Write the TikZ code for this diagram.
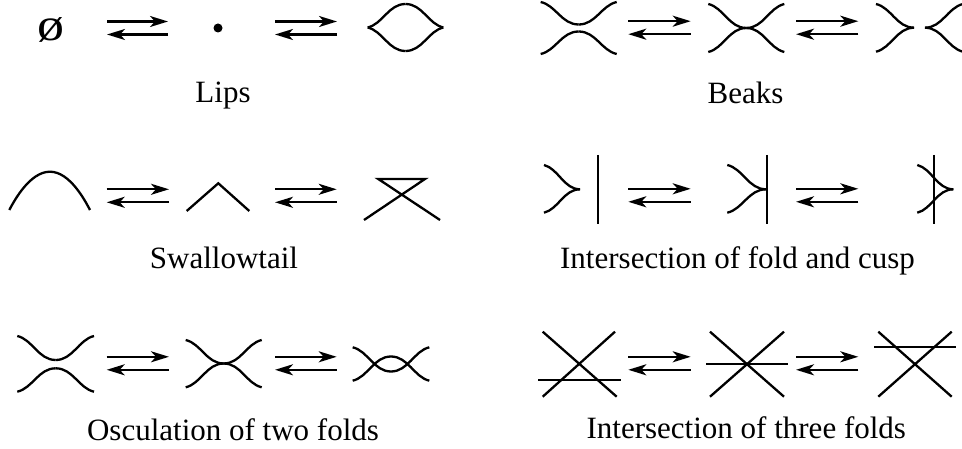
\documentclass[tikz,border=0pt]{standalone}
\usepackage{fontspec}
\setmainfont{Liberation Serif}
\usetikzlibrary{arrows.meta}
\tikzset{
  curve/.style={line width=2.3pt, line cap=butt},
  arr/.style={line width=2.4pt, -{Stealth[length=18pt,width=11pt,inset=5pt]}},
  lbl/.style={anchor=base, inner sep=0pt, font=\fontsize{31}{36}\selectfont},
}
% end point (#1,#2) to extremum (#3,#4), horizontal tangent at the extremum
\newcommand\halfarc[4]{\draw[curve] (#1,#2) .. controls ({#1+0.4*(#3-#1)},{#2+0.15*(#4-#2)}) and ({#3-0.45*(#3-#1)},#4) .. (#3,#4);}
% pair of reversible arrows from x=#1 to x=#2 about y=#3
\newcommand\revpair[3]{%
  \coordinate (pa) at (#1,#3-6.5); \coordinate (pb) at (#2,#3-6.5);
  \coordinate (pc) at (#2,#3+6.5); \coordinate (pd) at (#1,#3+6.5);
  \draw[arr] (pa) -- (pb); \draw[arr] (pc) -- (pd);}
\begin{document}
\begin{tikzpicture}[x=1pt,y=-1pt]
\fill[white] (0,0) rectangle (962,449);
\useasboundingbox (0,0) rectangle (962,449);
\begin{scope}
\clip (0,0) rectangle (962,449);
% ---------- Lips ----------
\node[inner sep=0pt] (empty) at (50.5,29.5) {\resizebox{27pt}{23pt}{ø}};
\revpair{107}{168}{28}
\fill (218,28) circle (4.5);
\revpair{275}{337}{28}
\halfarc{367.7}{27.5}{405.5}{4}
\halfarc{443.3}{27.5}{405.5}{4}
\halfarc{367.7}{27.5}{405.5}{51}
\halfarc{443.3}{27.5}{405.5}{51}
\node[lbl] (lips) at (223,103) {Lips};
% ---------- Beaks ----------
\halfarc{540.7}{2}{578.7}{24.5}
\halfarc{616.7}{2}{578.7}{24.5}
\halfarc{540.7}{54}{578.7}{31.5}
\halfarc{616.7}{54}{578.7}{31.5}
\revpair{628.3}{690.7}{27.7}
\halfarc{708.3}{4}{746.3}{28}
\halfarc{784.3}{4}{746.3}{28}
\halfarc{708.3}{52}{746.3}{28}
\halfarc{784.3}{52}{746.3}{28}
\revpair{796}{858.3}{27.7}
\halfarc{876}{4}{914}{27.7}
\halfarc{876}{51.7}{914}{27.7}
\halfarc{963}{4}{925}{27.7}
\halfarc{963}{51.7}{925}{27.7}
\node[lbl] (beaks) at (745.5,103.5) {Beaks};
% ---------- Swallowtail ----------
\draw[curve] (9.3,210) parabola bend (50,171.7) (90,210);
\revpair{106.7}{169}{195.8}
\draw[curve] (186.7,211) -- (218.3,183.3) -- (249.3,211);
\revpair{275}{336.7}{195.8}
\draw[curve] (364,220) -- (425,179) -- (378.3,179) -- (440,220);
\node[lbl] (swallow) at (224,269) {Swallowtail};
% ---------- Fold and cusp ----------
\halfarc{544}{165}{580}{189.3}
\halfarc{544}{212.7}{580}{189.3}
\draw[curve] (598.3,155) -- (598.3,224);
\revpair{628.3}{690.7}{195.3}
\halfarc{727.3}{165}{766}{189.3}
\halfarc{727.3}{212.7}{766}{189.3}
\draw[curve] (767.3,155) -- (767.3,224);
\revpair{796}{858.3}{195.3}
\halfarc{917.3}{165}{953.3}{189.3}
\halfarc{917.3}{212.7}{953.3}{189.3}
\draw[curve] (934,155) -- (934,224);
\node[lbl] (foldcusp) at (737.5,269) {Intersection of fold and cusp};
% ---------- Osculation ----------
\halfarc{17.3}{336}{55.7}{360}
\halfarc{94}{336}{55.7}{360}
\halfarc{17.3}{391.7}{55.7}{368.3}
\halfarc{94}{391.7}{55.7}{368.3}
\revpair{106.7}{169}{363.3}
\halfarc{185.7}{340}{223.7}{363.5}
\halfarc{261.7}{340}{223.7}{363.5}
\halfarc{185.7}{387.3}{223.7}{363.5}
\halfarc{261.7}{387.3}{223.7}{363.5}
\revpair{275}{336.7}{363.3}
\halfarc{352.7}{347.3}{391}{371.5}
\halfarc{429.3}{347.3}{391}{371.5}
\halfarc{352.7}{380.7}{391}{356.5}
\halfarc{429.3}{380.7}{391}{356.5}
\node[lbl] (oscul) at (233,440) {Osculation of two folds};
% ---------- Three folds ----------
\draw[curve] (542.7,331.7) -- (616.7,396.7);
\draw[curve] (615,331.7) -- (542.7,396.7);
\draw[curve] (538.3,380) -- (620.7,380);
\revpair{628.3}{690.7}{363.3}
\draw[curve] (710,331.7) -- (784,396.7);
\draw[curve] (784,331.7) -- (710,396.7);
\draw[curve] (706,364) -- (788.3,364);
\revpair{796}{858.3}{363.3}
\draw[curve] (878.3,331.7) -- (951.7,396.7);
\draw[curve] (951.7,331.7) -- (878.3,396.7);
\draw[curve] (874,346.7) -- (956,346.7);
\node[lbl] (three) at (746.3,438) {Intersection of three folds};
\end{scope}
\end{tikzpicture}
\end{document}
